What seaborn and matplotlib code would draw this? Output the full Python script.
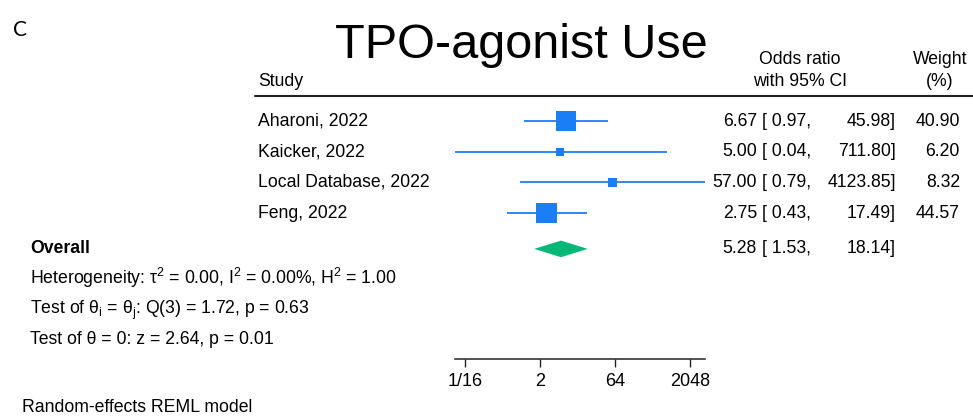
import numpy as np
import pandas as pd
import matplotlib
matplotlib.use("Agg")
from matplotlib import pyplot as plt
from matplotlib.transforms import blended_transform_factory
from matplotlib.lines import Line2D
from matplotlib.ticker import NullLocator
import seaborn as sns

# study level data
studies = ["Aharoni, 2022", "Kaicker, 2022", "Local Database, 2022", "Feng, 2022"]
odds = [6.67, 5.00, 57.00, 2.75]
ci_low = [0.97, 0.04, 0.79, 0.43]
ci_high = [45.98, 711.80, 4123.85, 17.49]
weights = [40.90, 6.20, 8.32, 44.57]

# pooled estimate
overall_or = 5.28
overall_low = 1.53
overall_high = 18.14

tick_values = [1 / 16, 2, 64, 2048]
tick_labels = ["1/16", "2", "64", "2048"]

stats_lines = [
    "Heterogeneity: τ$^2$ = 0.00, I$^2$ = 0.00%, H$^2$ = 1.00",
    "Test of θ$_i$ = θ$_j$: Q(3) = 1.72, p = 0.63",
    "Test of θ = 0: z = 2.64, p = 0.01",
]

sns.set_style("white")
plt.rcParams["font.family"] = ["Liberation Sans", "DejaVu Sans"]
plt.rcParams["text.color"] = "black"
plt.rcParams["xtick.color"] = "black"
plt.rcParams["mathtext.fontset"] = "custom"
plt.rcParams["mathtext.rm"] = "Liberation Sans"
plt.rcParams["mathtext.it"] = "Liberation Sans"
plt.rcParams["mathtext.default"] = "regular"

W, H = 973, 416
blue = "#1a7ff7"
green = "#06b878"
fs = 12.7


def fx(px):
    return px / W


def fy(py):
    return 1 - py / H


fig = plt.figure(figsize=(W / 100, H / 100), dpi=100)
ax = fig.add_axes([fx(450), fy(359), 270 / W, 259 / H])

df = pd.DataFrame({"study": studies, "odds": odds, "low": ci_low, "high": ci_high,
                   "weight": weights, "row": np.arange(1, len(studies) + 1)})
overall_row = len(studies) + 1.17

ax.hlines(df["row"], df["low"], df["high"], color=blue, lw=1.3, zorder=2)
sns.scatterplot(data=df, x="odds", y="row", size="weight", sizes=(0, 5.07 * 50),
                size_norm=(0, 50), marker="s", color=blue, linewidth=0,
                legend=False, ax=ax, zorder=3)

dh = 0.27
ax.fill([overall_low, overall_or, overall_high, overall_or],
        [overall_row, overall_row - dh, overall_row, overall_row + dh],
        color=green, lw=0, zorder=3)

ax.set_xscale("log", base=2)
ax.set_xlim(2 ** -5, 2 ** 13)
ax.set_ylim(8.76, 0.315)
ax.set_xticks(tick_values, tick_labels)
ax.xaxis.set_minor_locator(NullLocator())
ax.set_yticks([])
ax.set_xlabel("")
ax.set_ylabel("")
for s in ["left", "right", "top"]:
    ax.spines[s].set_visible(False)
ax.spines["bottom"].set_bounds(min(ci_low), max(ci_high))
ax.spines["bottom"].set_color("#222222")
ax.spines["bottom"].set_linewidth(1.1)
ax.tick_params(axis="x", length=6, width=1, color="#222222", labelcolor="black",
               labelsize=13, pad=4, bottom=True)
ax.patch.set_alpha(0)

trans = blended_transform_factory(fig.transFigure, ax.transData)

# table rows
for _, r in df.iterrows():
    y = r["row"]
    fig.text(fx(258), y, r["study"], transform=trans, va="center", fontsize=fs)
    fig.text(fx(757), y, f"{r['odds']:.2f}", transform=trans, va="center", ha="right", fontsize=fs)
    fig.text(fx(762), y, f"[{r['low']:5.2f},", transform=trans, va="center", ha="left", fontsize=fs)
    fig.text(fx(896), y, f"{r['high']:.2f}]", transform=trans, va="center", ha="right", fontsize=fs)
    fig.text(fx(960), y, f"{r['weight']:.2f}", transform=trans, va="center", ha="right", fontsize=fs)

fig.text(fx(30), overall_row, "Overall", transform=trans, va="center", fontsize=fs, fontweight="bold")
fig.text(fx(757), overall_row, f"{overall_or:.2f}", transform=trans, va="center", ha="right", fontsize=fs)
fig.text(fx(762), overall_row, f"[{overall_low:5.2f},", transform=trans, va="center", ha="left", fontsize=fs)
fig.text(fx(896), overall_row, f"{overall_high:.2f}]", transform=trans, va="center", ha="right", fontsize=fs)

for i, line in enumerate(stats_lines):
    fig.text(fx(30), fy(284 + 30 * i), line, va="baseline", fontsize=fs)

fig.text(fx(22), fy(408), "Random-effects REML model", va="center", fontsize=fs)

# header
fig.text(fx(258), fy(81), "Study", va="center", fontsize=fs)
fig.text(fx(800), fy(59), "Odds ratio", va="center", ha="center", fontsize=fs)
fig.text(fx(800), fy(81), "with 95% CI", va="center", ha="center", fontsize=fs)
fig.text(fx(940), fy(59), "Weight", va="center", ha="center", fontsize=fs)
fig.text(fx(940), fy(81), "(%)", va="center", ha="center", fontsize=fs)
fig.add_artist(Line2D([fx(255), fx(973)], [fy(96), fy(96)], color="#222222", lw=1.5))

fig.text(fx(521), fy(58), "TPO-agonist Use", ha="center", va="baseline", fontsize=35)
fig.text(fx(13), fy(30), "C", va="center", fontsize=15, family=["Lato", "DejaVu Sans"])

fig.savefig("out.png", dpi=100)
